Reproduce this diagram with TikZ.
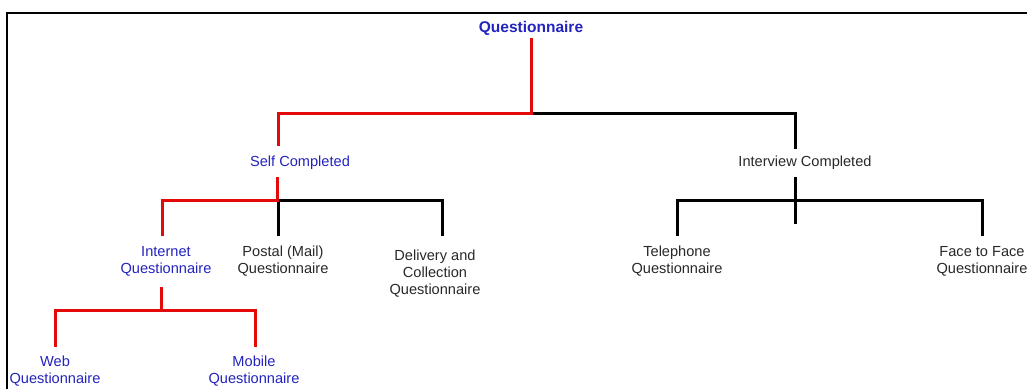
\documentclass[tikz,border=0pt]{standalone}
\usepackage{fontspec}
\setmainfont{Liberation Sans}
\definecolor{lred}{RGB}{228,10,10}
\definecolor{lblue}{RGB}{35,35,190}
\definecolor{ltext}{RGB}{40,40,40}
\tikzset{
  lbl/.style={inner sep=0pt, align=center, font=\fontsize{14.6}{17}\selectfont, text=ltext},
  blbl/.style={lbl, text=lblue},
  redline/.style={draw=lred, line width=3pt},
  blkline/.style={draw=black, line width=3pt},
  frameline/.style={draw=black, line width=2pt}
}
\begin{document}
\begin{tikzpicture}[x=1pt,y=-1pt]
\useasboundingbox (0,0) rectangle (1027,388);
\draw[frameline] (7,390) -- (7,13) -- (1030,13);

% nodes
\node[blbl, font=\fontsize{15.5}{17}\bfseries] (q) at (531,28) {Questionnaire};
\node[blbl] (self) at (300,163) {Self Completed};
\node[lbl] (inter) at (805,163) {Interview Completed};
\node[blbl] (internet) at (166,261) {Internet\\Questionnaire};
\node[lbl] (postal) at (283,261) {Postal (Mail)\\Questionnaire};
\node[lbl] (delivery) at (435,274) {Delivery and\\Collection\\Questionnaire};
\node[lbl] (tel) at (677,261) {Telephone\\Questionnaire};
\node[lbl] (f2f) at (982,261) {Face to Face\\Questionnaire};
\node[blbl] (web) at (55,371) {Web\\Questionnaire};
\node[blbl] (mobile) at (254,371) {Mobile\\Questionnaire};

% junction coordinates
\coordinate (qtop) at (531,38);
\coordinate (j1) at (531,113);
\coordinate (selftop) at (278,146);
\coordinate (intertop) at (795,149);
\coordinate (selfbot) at (277,177);
\coordinate (j2) at (277,200);
\coordinate (intbot) at (795,177);
\coordinate (j3) at (795,200);
\coordinate (j3end) at (795,224);
\coordinate (internettop) at (162,236);
\coordinate (postaltop) at (278,236);
\coordinate (deliverytop) at (442,236);
\coordinate (teltop) at (677,236);
\coordinate (f2ftop) at (982,236);
\coordinate (internetbot) at (161,287);
\coordinate (j4) at (161,310);
\coordinate (webtop) at (55,347);
\coordinate (mobiletop) at (255,347);

% connectors
\draw[blkline] (j1) -| (intertop);
\draw[redline] (qtop) -- (j1) -| (selftop);

\draw[blkline] (j2) -| (deliverytop);
\draw[blkline] (j2 -| postaltop) -- (postaltop);
\draw[redline] (selfbot) -- (j2) -| (internettop);

\draw[blkline] (intbot) -- (j3end);
\draw[blkline] (teltop) |- (j3) -| (f2ftop);

\draw[redline] (internetbot) -- (j4);
\draw[redline] (webtop) |- (j4) -| (mobiletop);
\end{tikzpicture}
\end{document}
